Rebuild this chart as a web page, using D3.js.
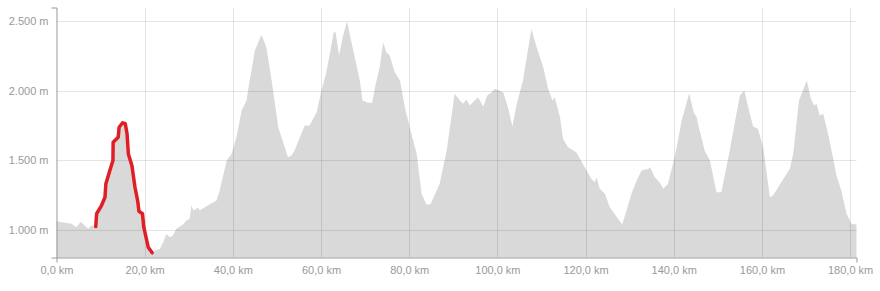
<!DOCTYPE html>
<html>
  <head>
  <title>Elevation profile</title>
  <style>
    body, html {
      margin: 0;
      padding: 0;
      background: #fff;
    }
    #svg text {
      font-family: "Liberation Sans", Arial, sans-serif;
    }
  </style>
  </head>
  <body>

  <svg id="svg" width="880" height="291"></svg>
  <script src="https://d3js.org/d3.v7.min.js"></script>
  <script>
      // profile: distance (km) and elevation (m)
      const distanceKm = [
        0, 1.5, 3.4, 4.5, 5.5, 6.4, 7.2, 7.9, 8.9, 9.1,
        10.2, 11.0, 11.2, 12.1, 12.8, 12.85, 14.0, 14.2, 15.0, 15.6,
        16.0, 16.3, 17.1, 17.8, 18.4, 18.7, 19.5, 19.8, 20.8, 21.7,
        22.3, 23.4, 24.2, 24.9, 25.7, 26.4, 27.2, 28.7, 29.5, 30.2,
        30.6, 31.1, 32.1, 32.5, 33.6, 36.3, 37.0, 38.6, 39.7, 40.8,
        42.0, 43.1, 43.5, 45.0, 46.5, 47.6, 48.8, 50.3, 52.5, 53.3,
        54.0, 55.2, 56.3, 57.4, 59.0, 60.1, 61.2, 62.9, 63.3, 64.1,
        64.9, 65.9, 67.3, 68.8, 69.4, 70.7, 71.6, 72.4, 73.3, 74.1,
        74.8, 75.6, 76.7, 77.9, 79.0, 80.5, 81.7, 82.8, 83.9, 84.8,
        86.9, 88.5, 90.3, 91.5, 92.2, 93.0, 93.7, 95.6, 96.8, 97.7,
        98.7, 99.4, 101.3, 102.4, 103.4, 104.3, 105.8, 107.7, 108.9, 110.4,
        111.5, 112.5, 113.0, 114.2, 114.9, 116.0, 117.9, 119.8, 121.3, 122.1,
        122.5, 123.2, 124.4, 125.5, 127.1, 128.3, 129.3, 130.4, 131.6, 132.7,
        134.2, 134.6, 135.7, 136.8, 137.6, 138.7, 139.8, 140.6, 141.8, 143.5,
        144.5, 145.2, 145.6, 147.0, 148.2, 149.7, 150.8, 152.7, 153.8, 155.0,
        156.0, 156.9, 158.0, 159.1, 160.3, 161.8, 162.5, 164.4, 166.3, 167.1,
        168.4, 169.3, 170.2, 171.0, 171.8, 172.4, 173.1, 173.9, 175.0, 176.1,
        176.9, 178.0, 179.2, 180.3, 181.45
      ]
      const elevationM = [
        1061, 1052, 1043, 1018, 1057, 1030, 1007, 1030, 1023, 1115,
        1174, 1234, 1331, 1426, 1498, 1630, 1666, 1738, 1770, 1763,
        1691, 1546, 1462, 1306, 1210, 1133, 1115, 1018, 874, 834,
        850, 862, 910, 970, 946, 958, 1007, 1038, 1066, 1079,
        1174, 1138, 1158, 1138, 1162, 1210, 1282, 1498, 1546, 1666,
        1858, 1930, 2015, 2290, 2403, 2314, 2074, 1738, 1522, 1534,
        1570, 1666, 1750, 1750, 1846, 2002, 2134, 2422, 2422, 2254,
        2386, 2501, 2290, 2074, 1930, 1914, 1914, 2050, 2170, 2350,
        2278, 2254, 2134, 2074, 1882, 1691, 1546, 1259, 1182, 1182,
        1331, 1570, 1979, 1930, 1907, 1938, 1894, 1954, 1887, 1966,
        1990, 2015, 1990, 1882, 1743, 1894, 2074, 2446, 2314, 2170,
        2015, 1930, 1954, 1810, 1654, 1594, 1558, 1450, 1367, 1342,
        1378, 1295, 1259, 1162, 1090, 1038, 1138, 1259, 1354, 1426,
        1438, 1450, 1378, 1342, 1295, 1331, 1474, 1583, 1786, 1983,
        1846, 1810, 1750, 1570, 1498, 1270, 1270, 1570, 1763, 1966,
        2002, 1882, 1743, 1727, 1594, 1234, 1246, 1342, 1438, 1546,
        1930, 2002, 2074, 1954, 1894, 1907, 1822, 1835, 1691, 1522,
        1390, 1282, 1115, 1043, 1038
      ]
      // highlighted stretch (km from/to)
      const trackRange = [8.9, 21.7]

      const xTicks = [0, 20, 40, 60, 80, 100, 120, 140, 160, 180]
      const yTicks = [1000, 1500, 2000, 2500]

      const de = d3.formatLocale({ decimal: ',', thousands: '.', grouping: [3], currency: ['', ' €'] })
      const kmFormat = d => de.format('.1f')(d) + ' km'
      const mFormat = d => de.format(',.0f')(d) + ' m'

      const profile = distanceKm.map((d, i) => ({ km: d, m: elevationM[i] }))
      const track = profile.filter(d => d.km >= trackRange[0] && d.km <= trackRange[1])

      const x = d3.scaleLinear()
          .domain([0, 181.45])
          .range([56.5, 856.5])
      const y = d3.scaleLinear()
          .domain([800, 2600])
          .range([257.5, 7.5])

      const svg = d3.select('#svg')

      svg.append('path')
          .datum(profile)
          .attr('fill', '#d9d9d9')
          .attr('d', d3.area().x(d => x(d.km)).y0(y(800)).y1(d => y(d.m)))

      // grid
      svg.append('g')
          .selectAll('line')
          .data(yTicks)
          .join('line')
          .attr('x1', x.range()[0])
          .attr('x2', x.range()[1])
          .attr('y1', d => Math.round(y(d)) + 0.5)
          .attr('y2', d => Math.round(y(d)) + 0.5)
          .attr('stroke', 'rgba(0,0,0,0.1)')
      svg.append('g')
          .selectAll('line')
          .data(xTicks.slice(1))
          .join('line')
          .attr('x1', d => Math.round(x(d)) + 0.5)
          .attr('x2', d => Math.round(x(d)) + 0.5)
          .attr('y1', y.range()[1])
          .attr('y2', y.range()[0])
          .attr('stroke', 'rgba(0,0,0,0.1)')

      // axes
      const yAxis = svg.append('g')
          .attr('transform', `translate(${x.range()[0]},0)`)
          .call(d3.axisLeft(y).tickValues(yTicks).tickFormat(mFormat)
              .tickSizeInner(0).tickSizeOuter(5).tickPadding(8))
      const xAxis = svg.append('g')
          .attr('transform', `translate(0,${y.range()[0]})`)
          .call(d3.axisBottom(x).tickValues(xTicks).tickFormat(kmFormat)
              .tickSizeInner(0).tickSizeOuter(5).tickPadding(9))
      for (const g of [yAxis, xAxis]) {
        g.select('.domain').attr('stroke', '#999')
        g.selectAll('text')
            .attr('fill', '#999')
            .style('font-size', '11px')
      }

      svg.append('path')
          .datum(track)
          .attr('fill', 'none')
          .attr('stroke', '#e01e26')
          .attr('stroke-width', 3.5)
          .attr('stroke-linejoin', 'round')
          .attr('stroke-linecap', 'round')
          .attr('d', d3.line().x(d => x(d.km)).y(d => y(d.m)))
  </script>
</body>
</html>
